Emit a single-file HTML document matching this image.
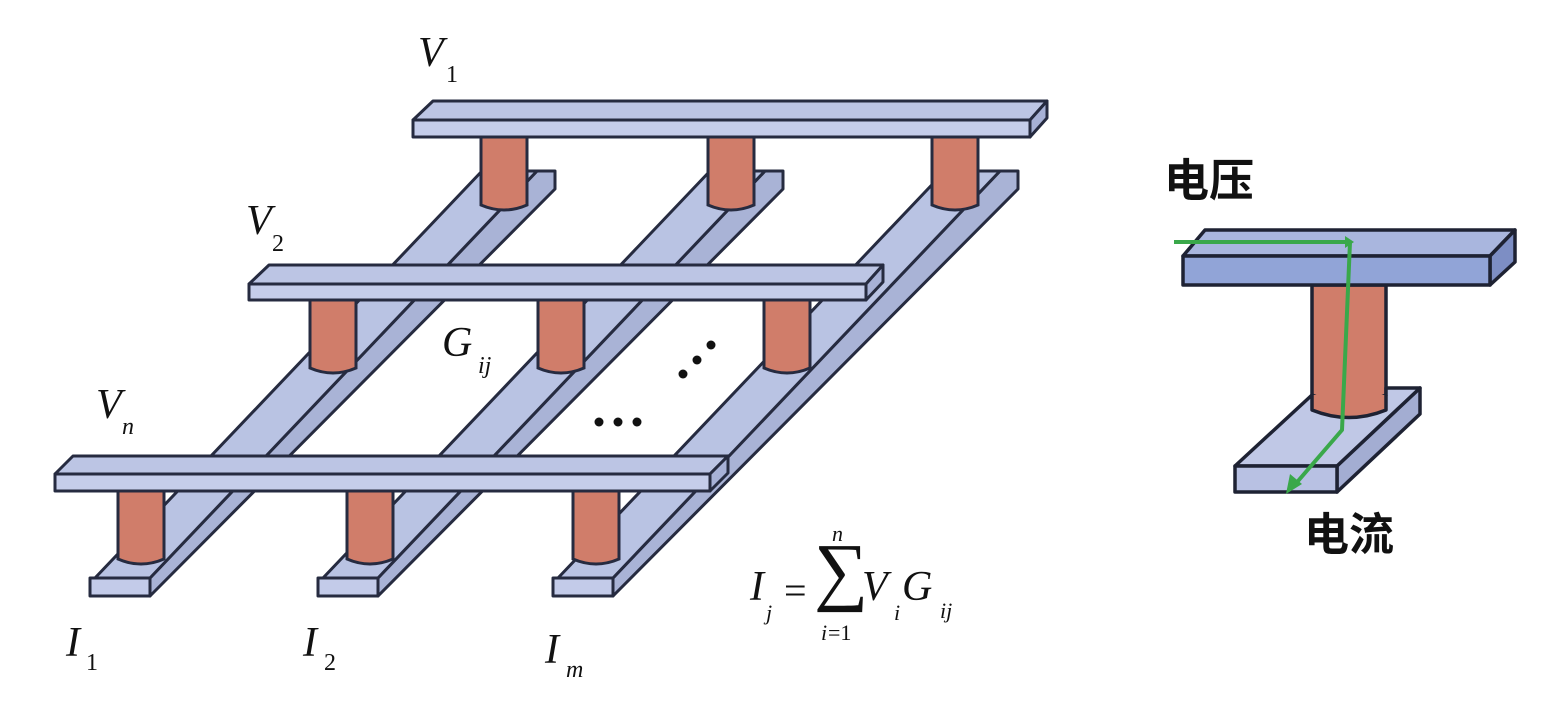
<!DOCTYPE html>
<html><head><meta charset="utf-8"><style>
html,body{margin:0;padding:0;background:#fff;}
svg{display:block;}
.t{font-family:"Liberation Serif",serif;font-style:italic;fill:#111;}
.s{font-family:"Liberation Serif",serif;fill:#111;}
.cn{font-family:"Liberation Sans","Noto Sans CJK SC",sans-serif;font-weight:bold;fill:#111;}
</style></head><body>
<svg width="1564" height="713" viewBox="0 0 1564 713" xmlns="http://www.w3.org/2000/svg">
<defs>
<g id="col" stroke="#262b40" stroke-width="3" stroke-linejoin="round">
  <polygon points="150,578 537,171 555,171 555,189 150,596" fill="#a9b3d6"/>
  <polygon points="95,578 150,578 537,171 482,171" fill="#b9c3e3"/>
  <rect x="90" y="578" width="60" height="18" fill="#c3cbe9"/>
</g>
<g id="pil" stroke="#262b40" stroke-width="3">
  <path d="M0,0 L0,68 Q23,78 46,68 L46,0 Z" fill="#d07d6a"/>
</g>
</defs>
<use href="#col"/>
<use href="#col" x="228"/>
<use href="#col" x="463"/>
<use href="#pil" x="481" y="137"/>
<use href="#pil" x="708" y="137"/>
<use href="#pil" x="932" y="137"/>
<g stroke="#262b40" stroke-width="3" stroke-linejoin="round">
<polygon points="413,120 433,101 1047,101 1030,120" fill="#bcc5e4"/>
<polygon points="1030,120 1047,101 1047,118 1030,137" fill="#a7b1d6"/>
<rect x="413" y="120" width="617" height="17" fill="#c5cdea"/>
</g>
<use href="#pil" x="310" y="300"/>
<use href="#pil" x="538" y="300"/>
<use href="#pil" x="764" y="300"/>
<g stroke="#262b40" stroke-width="3" stroke-linejoin="round">
<polygon points="249,284 269,265 883,265 866,284" fill="#bcc5e4"/>
<polygon points="866,284 883,265 883,282 866,300" fill="#a7b1d6"/>
<rect x="249" y="284" width="617" height="16" fill="#c5cdea"/>
</g>
<use href="#pil" x="118" y="491"/>
<use href="#pil" x="347" y="491"/>
<use href="#pil" x="573" y="491"/>
<g stroke="#262b40" stroke-width="3" stroke-linejoin="round">
<polygon points="55,474 73,456 728,456 710,474" fill="#bcc5e4"/>
<polygon points="710,474 728,456 728,473 710,491" fill="#a7b1d6"/>
<rect x="55" y="474" width="655" height="17" fill="#c5cdea"/>
</g>
<g fill="#111">
<circle cx="599" cy="422" r="4.5"/><circle cx="618" cy="422" r="4.5"/><circle cx="637" cy="422" r="4.5"/>
<circle cx="683" cy="374" r="4.5"/><circle cx="697" cy="360" r="4.5"/><circle cx="711" cy="345" r="4.5"/>
</g>
<text class="t" x="418" y="66" font-size="42">V</text><text class="s" x="446" y="82" font-size="24">1</text>
<text class="t" x="246" y="234" font-size="42">V</text><text class="s" x="272" y="251" font-size="24">2</text>
<text class="t" x="96" y="418" font-size="42">V</text><text class="t" x="122" y="434" font-size="24">n</text>
<text class="t" x="442" y="356" font-size="42">G</text><text class="t" x="478" y="373" font-size="24">ij</text>
<text class="t" x="66" y="656" font-size="42">I</text><text class="s" x="86" y="670" font-size="24">1</text>
<text class="t" x="303" y="656" font-size="42">I</text><text class="s" x="324" y="670" font-size="24">2</text>
<text class="t" x="545" y="663" font-size="42">I</text><text class="t" x="566" y="677" font-size="24">m</text>
<text class="t" x="750" y="600" font-size="42">I</text>
<text class="t" x="766" y="620" font-size="22">j</text>
<text class="s" x="784" y="604" font-size="40">=</text>
<text class="s" x="814" y="596" font-size="76">∑</text>
<text class="t" x="832" y="541" font-size="22">n</text>
<text class="t" x="821" y="640" font-size="22">i</text><text class="s" x="828" y="640" font-size="22">=1</text>
<text class="t" x="862" y="600" font-size="42">V</text>
<text class="t" x="894" y="620" font-size="22">i</text>
<text class="t" x="902" y="600" font-size="42">G</text>
<text class="t" x="940" y="618" font-size="22">ij</text>
<g stroke="#1e2233" stroke-width="3.5" stroke-linejoin="round">
<path d="M1312,285 L1312,410 Q1349,425 1386,410 L1386,285 Z" fill="#d07d6a"/>
</g>
<g stroke="#1e2233" stroke-width="3.5" stroke-linejoin="round">
<polygon points="1337,466 1420,388 1420,414 1337,492" fill="#a3add2"/>
<path d="M1235,466 L1312,395 Q1349,412 1386,395 L1386,388 L1420,388 L1337,466 Z" fill="#c0c8e6"/>
<path d="M1312,395 L1312,410 Q1349,425 1386,410 L1386,395" fill="#d07d6a"/>
<rect x="1235" y="466" width="102" height="26" fill="#b8c1e3"/>
<polygon points="1183,256 1205,230 1515,230 1490,256" fill="#a9b6de"/>
<polygon points="1490,256 1515,230 1515,262 1490,285" fill="#7d8ec4"/>
<rect x="1183" y="256" width="307" height="29" fill="#91a4d7"/>
</g>
<g stroke="#3aa84a" stroke-width="4" fill="none" stroke-linejoin="round">
<polyline points="1174,242 1350,242 1342,430 1292,488"/>
</g>
<polygon points="1286,494 1290,474 1302,484" fill="#3aa84a"/>
<polygon points="1354,242 1345,236 1345,248" fill="#3aa84a"/>
<text class="cn" x="1164" y="196" font-size="45">电压</text>
<text class="cn" x="1304" y="550" font-size="45">电流</text>
</svg>
</body></html>
